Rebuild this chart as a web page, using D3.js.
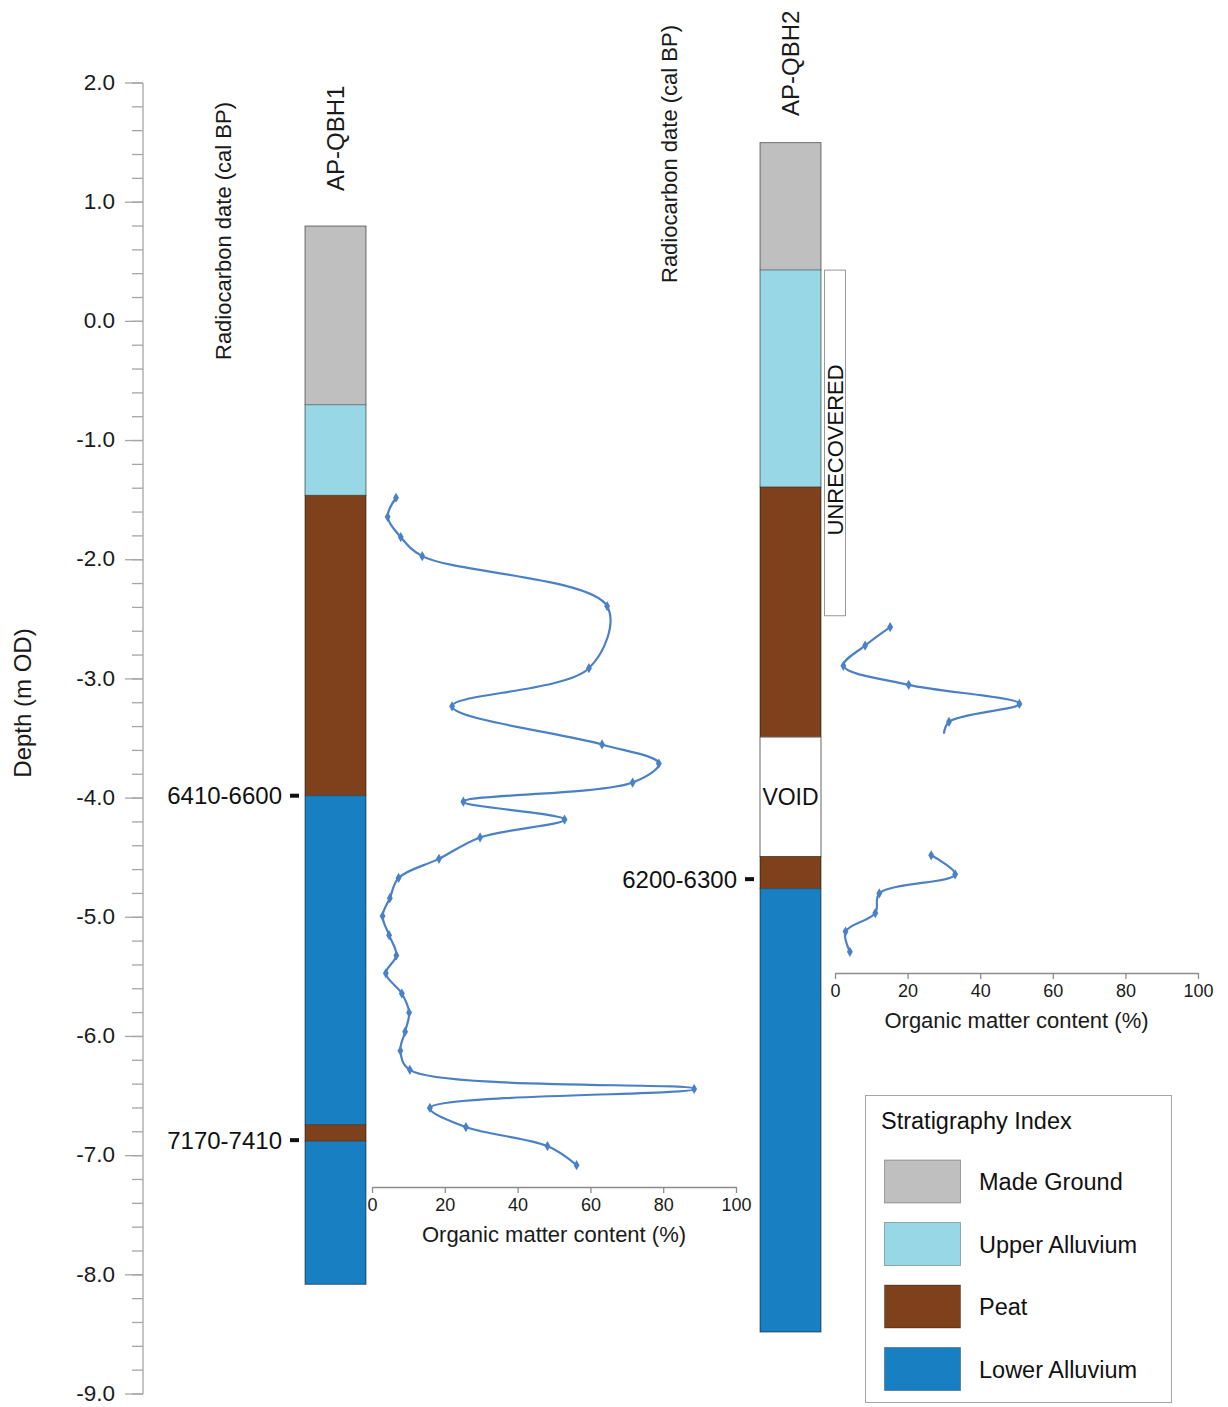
<!DOCTYPE html>
<html>
<head>
<meta charset="utf-8">
<script src="https://cdn.jsdelivr.net/npm/d3@7"></script>
<style>
  html, body { margin: 0; padding: 0; background: #fff; }
  svg { display: block; font-family: "Liberation Sans", Arial, sans-serif; }
</style>
</head>
<body>
<svg id="chart" width="1228" height="1407"></svg>
<script>
// ---------------- DATA ----------------
const depthTicks = [2, 1, 0, -1, -2, -3, -4, -5, -6, -7, -8, -9];
const omTicks = [0, 20, 40, 60, 80, 100];

const stratTypes = ["Made Ground", "Upper Alluvium", "Peat", "Lower Alluvium"];
const stratColors = ["#bfbfbf", "#98d7e5", "#7e411c", "#1880c2"];

// AP-QBH1 borehole layers (m OD)
const qbh1Tops    = [0.8, -0.7, -1.46, -3.98, -6.74, -6.88];
const qbh1Bottoms = [-0.7, -1.46, -3.98, -6.74, -6.88, -8.08];
const qbh1Types   = ["Made Ground", "Upper Alluvium", "Peat", "Lower Alluvium", "Peat", "Lower Alluvium"];

// AP-QBH2 borehole layers (m OD)
const qbh2Tops    = [1.5, 0.43, -1.39, -3.49, -4.49, -4.76];
const qbh2Bottoms = [0.43, -1.39, -3.49, -4.49, -4.76, -8.48];
const qbh2Types   = ["Made Ground", "Upper Alluvium", "Peat", "VOID", "Peat", "Lower Alluvium"];

const unrecoveredTop = 0.43, unrecoveredBottom = -2.47;

// radiocarbon dates
const qbh1DateLabels = ["6410-6600", "7170-7410"];
const qbh1DateDepths = [-3.98, -6.87];
const qbh2DateLabels = ["6200-6300"];
const qbh2DateDepths = [-4.68];

// organic matter content (%) vs depth, AP-QBH1
const qbh1OmDepth = [-1.48, -1.64, -1.81, -1.97, -2.39, -2.91, -3.23, -3.55, -3.71, -3.87,
                     -4.03, -4.18, -4.33, -4.51, -4.67, -4.84, -4.99, -5.15, -5.32, -5.47,
                     -5.64, -5.80, -5.96, -6.12, -6.28, -6.44, -6.60, -6.76, -6.92, -7.08];
const qbh1OmValue = [6.6, 4.3, 7.9, 13.8, 64.6, 59.6, 22.0, 63.2, 78.8, 71.6,
                     25.1, 52.9, 29.7, 18.4, 7.3, 4.9, 2.9, 4.7, 6.7, 3.8,
                     8.2, 10.2, 9.1, 7.8, 10.4, 88.5, 15.9, 25.8, 48.2, 56.2];

// organic matter content (%) vs depth, AP-QBH2 (two runs separated by the void)
const qbh2OmDepthA = [-2.565, -2.72, -2.89, -3.05, -3.21, -3.36, -3.46];
const qbh2OmValueA = [15.2, 8.3, 2.3, 20.3, 50.8, 31.4, 30.0];
const qbh2OmMarkA  = [true, true, true, true, true, true, false];
const qbh2OmDepthB = [-4.48, -4.64, -4.80, -4.965, -5.12, -5.29];
const qbh2OmValueB = [26.5, 33.1, 12.2, 11.1, 2.9, 4.1];

// ---------------- DRAW ----------------
const svg = d3.select("#chart");
const font = '"Liberation Sans", Arial, sans-serif';
const ink = "#1a1a1a";
const color = d3.scaleOrdinal().domain(stratTypes).range(stratColors);

const y = d3.scaleLinear().domain([2, -9]).range([83, 1394]);

// Depth axis
const axisX = 143;
const gAxis = svg.append("g").attr("transform", `translate(${axisX},0)`);
const minorTicks = d3.range(-9, 2.0001, 0.2).map(v => Math.round(v * 10) / 10);
gAxis.append("line").attr("x1", 0).attr("x2", 0).attr("y1", y(2)).attr("y2", y(-9))
  .attr("stroke", "#a6a6a6").attr("stroke-width", 1.3);
gAxis.selectAll("line.minor").data(minorTicks).join("line").attr("class", "minor")
  .attr("x1", -11).attr("x2", 0).attr("y1", d => y(d)).attr("y2", d => y(d))
  .attr("stroke", "#a6a6a6").attr("stroke-width", 1.3);
gAxis.selectAll("line.major").data(depthTicks).join("line").attr("class", "major")
  .attr("x1", -18).attr("x2", 0).attr("y1", d => y(d)).attr("y2", d => y(d))
  .attr("stroke", "#a6a6a6").attr("stroke-width", 1.3);
gAxis.selectAll("text.tl").data(depthTicks).join("text").attr("class", "tl")
  .attr("x", -28).attr("y", d => y(d)).attr("dy", "0.3em")
  .attr("text-anchor", "end").attr("font-size", 22.5).attr("fill", ink)
  .text(d => d.toFixed(1));

svg.append("text").attr("transform", `translate(31,703) rotate(-90)`)
  .attr("text-anchor", "middle").attr("font-size", 24).attr("fill", ink)
  .text("Depth (m OD)");

// Borehole columns
function drawColumn(x0, w, tops, bottoms, types) {
  const g = svg.append("g");
  tops.forEach((t, i) => {
    const tp = types[i];
    g.append("rect").attr("x", x0).attr("y", y(t)).attr("width", w)
      .attr("height", y(bottoms[i]) - y(t))
      .attr("fill", tp === "VOID" ? "#fff" : color(tp))
      .attr("stroke", tp === "VOID" ? "#999" : "rgba(0,0,0,0.3)").attr("stroke-width", 1);
    if (tp === "VOID") {
      g.append("text").attr("x", x0 + w / 2).attr("y", (y(t) + y(bottoms[i])) / 2)
        .attr("dy", "0.35em").attr("text-anchor", "middle").attr("font-size", 23)
        .attr("fill", "#111").text("VOID");
    }
  });
  g.append("rect").attr("x", x0).attr("y", y(tops[0])).attr("width", w)
    .attr("height", y(bottoms[bottoms.length - 1]) - y(tops[0]))
    .attr("fill", "none").attr("stroke", "rgba(0,0,0,0.25)");
}
drawColumn(305, 61, qbh1Tops, qbh1Bottoms, qbh1Types);
drawColumn(760, 61, qbh2Tops, qbh2Bottoms, qbh2Types);

// Unrecovered box
svg.append("rect").attr("x", 824.5).attr("y", y(unrecoveredTop)).attr("width", 21)
  .attr("height", y(unrecoveredBottom) - y(unrecoveredTop))
  .attr("fill", "#fff").attr("stroke", "#999").attr("stroke-width", 1);
svg.append("text")
  .attr("transform", `translate(835,${(y(unrecoveredTop) + y(unrecoveredBottom)) / 2 + 7}) rotate(-90)`)
  .attr("text-anchor", "middle").attr("dy", "0.35em").attr("font-size", 22).attr("fill", "#111")
  .text("UNRECOVERED");

// Column titles
function vText(x, yBottom, txt, size) {
  svg.append("text").attr("transform", `translate(${x},${yBottom}) rotate(-90)`)
    .attr("text-anchor", "start").attr("font-size", size).attr("fill", ink).text(txt);
}
vText(344, 191, "AP-QBH1", 24);
vText(231, 360, "Radiocarbon date (cal BP)", 22);
vText(799, 116, "AP-QBH2", 24);
vText(677, 283, "Radiocarbon date (cal BP)", 22);

// Dates
function drawDates(labels, depths, dashX) {
  labels.forEach((lab, i) => {
    svg.append("rect").attr("x", dashX).attr("y", y(depths[i]) - 2).attr("width", 9).attr("height", 4)
      .attr("fill", "#111");
    svg.append("text").attr("x", dashX - 8).attr("y", y(depths[i])).attr("dy", "0.35em")
      .attr("text-anchor", "end").attr("font-size", 24).attr("fill", "#111").text(lab);
  });
}
drawDates(qbh1DateLabels, qbh1DateDepths, 290);
drawDates(qbh2DateLabels, qbh2DateDepths, 745);

// Organic matter plots
function omAxis(x0, x1, yAxis) {
  const x = d3.scaleLinear().domain([0, 100]).range([x0, x1]);
  const g = svg.append("g").attr("transform", `translate(0,${yAxis})`);
  g.call(d3.axisBottom(x).tickValues(omTicks).tickSize(6).tickSizeOuter(0).tickPadding(5));
  g.select(".domain").attr("stroke", "#8c8c8c").attr("stroke-width", 1.3);
  g.selectAll(".tick line").attr("stroke", "#8c8c8c").attr("stroke-width", 1.3);
  g.selectAll(".tick text").attr("font-family", font).attr("font-size", 18).attr("fill", ink);
  svg.append("text").attr("x", (x0 + x1) / 2).attr("y", yAxis + 55)
    .attr("text-anchor", "middle").attr("font-size", 22).attr("fill", ink)
    .text("Organic matter content (%)");
  return x;
}
const xOm1 = omAxis(372, 736, 1187);
const xOm2 = omAxis(835, 1198, 973);

const lineColor = "#4a80c6";
function drawCurve(xs, depths, values, marks) {
  const pts = depths.map((d, i) => [xs(values[i]), y(d), marks ? marks[i] : true]);
  const line = d3.line().x(p => p[0]).y(p => p[1]).curve(d3.curveCatmullRom.alpha(0.5));
  svg.append("path").attr("d", line(pts)).attr("fill", "none")
    .attr("stroke", lineColor).attr("stroke-width", 2.2);
  svg.selectAll(null).data(pts.filter(p => p[2])).join("path")
    .attr("transform", p => `translate(${p[0]},${p[1]})`)
    .attr("d", d3.symbol(d3.symbolDiamond, 30)())
    .attr("fill", lineColor);
}
drawCurve(xOm1, qbh1OmDepth, qbh1OmValue);
drawCurve(xOm2, qbh2OmDepthA, qbh2OmValueA, qbh2OmMarkA);
drawCurve(xOm2, qbh2OmDepthB, qbh2OmValueB);

// Legend
const lg = svg.append("g");
lg.append("rect").attr("x", 865.5).attr("y", 1095.5).attr("width", 306).attr("height", 307)
  .attr("fill", "#fff").attr("stroke", "#a6a6a6").attr("stroke-width", 1);
lg.append("text").attr("x", 881).attr("y", 1121).attr("dy", "0.35em").attr("font-size", 23.5)
  .attr("fill", "#111").text("Stratigraphy Index");
stratTypes.forEach((t, i) => {
  const yy = 1160 + i * 62.5;
  lg.append("rect").attr("x", 884.5).attr("y", yy).attr("width", 76).attr("height", 43)
    .attr("fill", color(t)).attr("stroke", "rgba(0,0,0,0.3)").attr("stroke-width", 1);
  lg.append("text").attr("x", 979).attr("y", yy + 22).attr("dy", "0.35em").attr("font-size", 23.5)
    .attr("fill", "#111").text(t);
});
</script>
</body>
</html>
